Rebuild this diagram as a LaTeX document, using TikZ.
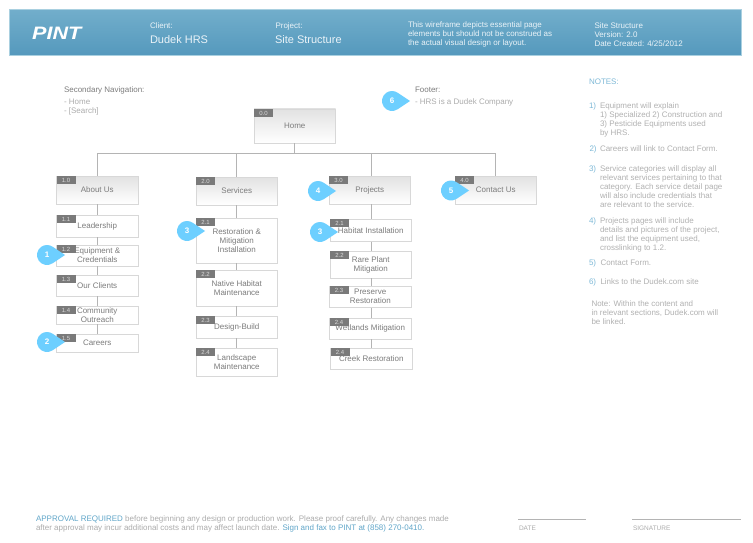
\documentclass[tikz,border=0pt]{standalone}
\usepackage{fontspec}
\setmainfont{Liberation Sans}
\usetikzlibrary{calc}
\pgfdeclarelayer{background}
\pgfdeclarelayer{mid}
\pgfsetlayers{background,mid,main}
\definecolor{hdtop}{HTML}{72AECB}
\definecolor{hdbot}{HTML}{5599BD}
\definecolor{hdedge}{HTML}{A9D0E0}
\definecolor{hdtext}{HTML}{EAF3F8}
\definecolor{boxedge}{HTML}{D8D8D8}
\definecolor{linegray}{HTML}{B4B4B4}
\definecolor{tagfill}{HTML}{7A7A7A}
\definecolor{bodytext}{HTML}{7C7C7C}
\definecolor{softtext}{HTML}{ABABAB}
\definecolor{notetext}{HTML}{B0B0B0}
\definecolor{noteblue}{HTML}{7DB8D6}
\definecolor{linkblue}{HTML}{5FA5C8}
\definecolor{bubble}{HTML}{6DCFFF}
\definecolor{gradtop}{HTML}{E2E2E2}
\tikzset{
  x=1pt,y=-1pt,
  boxtext/.style={inner sep=0pt,outer sep=0pt,align=center,text=bodytext,font=\fontsize{8}{9}\selectfont},
  plainbox/.style={draw=boxedge,line width=.9pt,fill=white},
  gradbox/.style={draw=boxedge,line width=.9pt,top color=gradtop,bottom color=white},
  tagbox/.style={fill=tagfill,inner sep=0pt,outer sep=0pt,minimum width=19pt,minimum height=8pt,text=white!85!black,font=\fontsize{6}{6}\selectfont,anchor=north west},
  conn/.style={draw=linegray,line width=.8pt},
  txt/.style={inner sep=0pt,outer sep=0pt,anchor=north west,align=left,yshift=-1.7pt,font=\fontsize{8}{9}\selectfont},
  hdtxt/.style={txt,text=hdtext},
  note/.style={txt,text=notetext},
  num/.style={txt,text=noteblue},
  bubbletext/.style={inner sep=0pt,text=white,font=\bfseries\fontsize{8}{9}\selectfont},
  rule/.style={draw=linegray,line width=.9pt},
}
\newcommand\sitebox[8]{%
  \pgfmathsetmacro\bw{#5-#3}\pgfmathsetmacro\bh{#6-#4}%
  \node[boxtext,minimum width=\bw pt,minimum height=\bh pt] (#1) at ({(#3+#5)/2},{(#4+#6)/2}) {#8};
  \begin{pgfonlayer}{background}
    \path[#2] (#1.north west) rectangle (#1.south east);
    \node[tagbox] (#1tag) at (#1.north west) {#7};
  \end{pgfonlayer}}
\newcommand\pointer[4]{%
  \begin{pgfonlayer}{mid}
    \fill[bubble,shift={(#2,#3)}] (18,0) -- (56.25:10) arc[start angle=56.25,end angle=303.75,radius=10] -- cycle;
  \end{pgfonlayer}
  \node[bubbletext] (#1) at (#2,#3) {#4};}
\begin{document}
\begin{tikzpicture}
\useasboundingbox (0,0) rectangle (753,543);
% header
\path[draw=hdedge,line width=.7pt,top color=hdtop,bottom color=hdbot] (9,9.5) rectangle (741,55);
\node[inner sep=0pt,anchor=west,text=white,xscale=1.2,font=\bfseries\itshape\fontsize{18}{18}\selectfont] (logo) at (32,33.5) {PINT};
\node[hdtxt] (clientl) at (150,21) {Client:};
\node[hdtxt,font=\fontsize{11}{12}\selectfont] (clientv) at (150,33.5) {Dudek HRS};
\node[hdtxt] (projl) at (275.5,21) {Project:};
\node[hdtxt,font=\fontsize{11}{12}\selectfont] (projv) at (275,33.5) {Site Structure};
\node[hdtxt] (disc) at (408,20.5) {This wireframe depicts essential page\\elements but should not be construed as\\the actual visual design or layout.};
\node[hdtxt] (meta) at (594.5,21.5) {Site Structure\\Version: 2.0\\Date Created: 4/25/2012};
% side labels
\node[txt,text=bodytext] (secl) at (64,85) {Secondary Navigation:};
\node[txt,text=softtext] (secv) at (64,97) {- Home\\- [Search]};
\node[txt,text=bodytext] (footl) at (415,85) {Footer:};
\node[txt,text=softtext] (footv) at (415,97) {- HRS is a Dudek Company};
% boxes
\sitebox{home}{gradbox}{254}{109}{335.5}{143}{0.0}{Home}
\sitebox{about}{gradbox}{56.5}{176}{138}{204}{1.0}{About Us}
\sitebox{serv}{gradbox}{196}{177}{277.5}{205}{2.0}{Services}
\sitebox{proj}{gradbox}{329}{176}{410.5}{204}{3.0}{Projects}
\sitebox{cont}{gradbox}{455}{176}{536.5}{204}{4.0}{Contact Us}
\sitebox{a1}{plainbox}{56.5}{215}{138}{237}{1.1}{Leadership}
\sitebox{a2}{plainbox}{56.5}{245}{138}{266}{1.2}{Equipment \&\\Credentials}
\sitebox{a3}{plainbox}{56.5}{275}{138}{296}{1.3}{Our Clients}
\sitebox{a4}{plainbox}{56.5}{306}{138}{324}{1.4}{Community\\Outreach}
\sitebox{a5}{plainbox}{56.5}{334}{138}{352}{1.5}{Careers}
\sitebox{s1}{plainbox}{196}{218}{277.5}{263}{2.1}{Restoration \&\\Mitigation\\Installation}
\sitebox{s2}{plainbox}{196}{270}{277.5}{306}{2.2}{Native Habitat\\Maintenance}
\sitebox{s3}{plainbox}{196}{316}{277.5}{338}{2.3}{Design-Build}
\sitebox{s4}{plainbox}{196}{348}{277.5}{376}{2.4}{Landscape\\Maintenance}
\sitebox{p1}{plainbox}{330}{219}{411.5}{241.5}{2.1}{Habitat Installation}
\sitebox{p2}{plainbox}{330}{251}{411.5}{278}{2.2}{Rare Plant\\Mitigation}
\sitebox{p3}{plainbox}{329.5}{286}{411}{307.5}{2.3}{Preserve\\Restoration}
\sitebox{p4}{plainbox}{329.5}{318}{411}{339}{2.4}{Wetlands Mitigation}
\sitebox{p5}{plainbox}{330.5}{348}{412}{369}{2.4}{Creek Restoration}
% connectors
\coordinate (bus) at (0,153);
\coordinate (pspine) at (371,0);
\begin{pgfonlayer}{background}
  \draw[conn] (home.south) -- (home.south |- bus);
  \draw[conn] (about.north |- bus) -- (cont.north |- bus);
  \draw[conn] (about.north |- bus) -- (about.north);
  \draw[conn] (serv.north |- bus) -- (serv.north);
  \draw[conn] (pspine |- bus) -- (pspine |- proj.north);
  \draw[conn] (cont.north |- bus) -- (cont.north);
  \draw[conn] (about.south) -- (a1.north);
  \draw[conn] (a1.south) -- (a2.north);
  \draw[conn] (a2.south) -- (a3.north);
  \draw[conn] (a3.south) -- (a4.north);
  \draw[conn] (a4.south) -- (a5.north);
  \draw[conn] (serv.south) -- (s1.north);
  \draw[conn] (s1.south) -- (s2.north);
  \draw[conn] (s2.south) -- (s3.north);
  \draw[conn] (s3.south) -- (s4.north);
  \draw[conn] (pspine |- proj.south) -- (pspine |- p1.north);
  \draw[conn] (pspine |- p1.south) -- (pspine |- p2.north);
  \draw[conn] (pspine |- p2.south) -- (pspine |- p3.north);
  \draw[conn] (pspine |- p3.south) -- (pspine |- p4.north);
  \draw[conn] (pspine |- p4.south) -- (pspine |- p5.north);
\end{pgfonlayer}
% pointers
\pointer{b1}{47}{255}{1}
\pointer{b2}{47}{342}{2}
\pointer{b3a}{187}{231}{3}
\pointer{b3b}{320}{232}{3}
\pointer{b4}{318}{191}{4}
\pointer{b5}{451}{190.5}{5}
\pointer{b6}{392}{101}{6}
% notes
\node[txt,text=noteblue] (notes) at (589,77) {NOTES:};
\node[num] (n1) at (589,101) {1)};
\node[note] (n1t) at (600,101) {Equipment will explain\\1) Specialized 2) Construction and\\3) Pesticide Equipments used\\by HRS.};
\node[num] (n2) at (589.5,144) {2)};
\node[note] (n2t) at (600,144) {Careers will link to Contact Form.};
\node[num] (n3) at (589,164) {3)};
\node[note] (n3t) at (600,164) {Service categories will display all\\relevant services pertaining to that\\category. Each service detail page\\will also include credentials that\\are relevant to the service.};
\node[num] (n4) at (589,216) {4)};
\node[note] (n4t) at (600,216) {Projects pages will include\\details and pictures of the project,\\and list the equipment used,\\crosslinking to 1.2.};
\node[num] (n5) at (589,258.5) {5)};
\node[note] (n5t) at (600.5,258.5) {Contact Form.};
\node[num] (n6) at (589,277) {6)};
\node[note] (n6t) at (600.5,277) {Links to the Dudek.com site};
\node[note] (n7) at (591.5,299) {Note: Within the content and\\in relevant sections, Dudek.com will\\be linked.};
% bottom
\node[txt,text=softtext] (appr) at (36,513.5) {\textcolor{linkblue}{APPROVAL REQUIRED} before beginning any design or production work. Please proof carefully. Any changes made\\after approval may incur additional costs and may affect launch date. \textcolor{linkblue}{Sign and fax to PINT at (858) 270-0410.}};
\coordinate (dateL) at (518,519.5);
\coordinate (dateR) at (586,519.5);
\coordinate (sigL) at (632,519.5);
\coordinate (sigR) at (741,519.5);
\draw[rule] (dateL) -- (dateR);
\draw[rule] (sigL) -- (sigR);
\node[txt,text=softtext,font=\fontsize{6.5}{7}\selectfont] (datel) at (519,524) {DATE};
\node[txt,text=softtext,font=\fontsize{6.5}{7}\selectfont] (sigl) at (633,524) {SIGNATURE};
\end{tikzpicture}
\end{document}
